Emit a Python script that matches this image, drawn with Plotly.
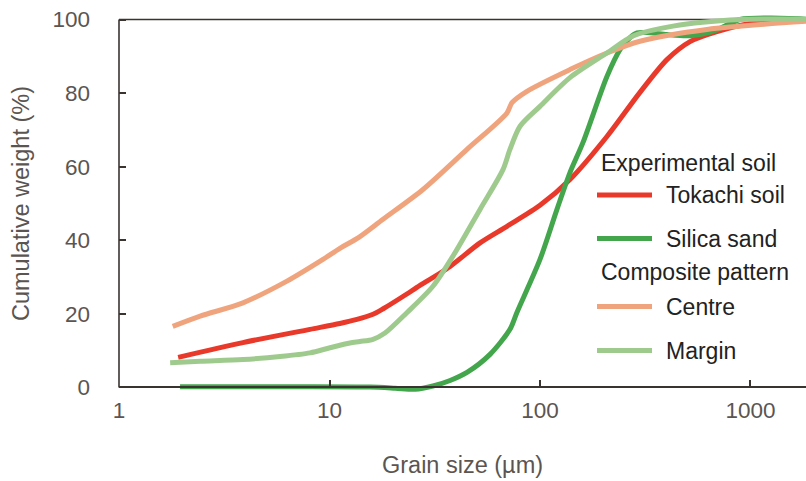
import plotly.graph_objects as go

# ---------------- data (grain size in µm, cumulative weight in %) ----------------
tokachi_x = [1.91, 3.88, 8.08, 11.2, 13.5, 16.1, 18.0, 23.3, 26.0, 37.4, 51.9, 69.7, 100, 138.8, 208, 298.5, 401, 516, 693, 995, 1380, 1835]
tokachi_y = [8.2, 12.2, 15.8, 17.4, 18.5, 19.9, 21.4, 25.4, 27.2, 32.9, 39.3, 43.8, 49.5, 56.5, 68.2, 80.2, 89.1, 94.0, 96.7, 98.9, 99.7, 100.0]

silica_x = [1.95, 4.19, 7.24, 15.6, 20.5, 25.5, 31.0, 37.4, 45.0, 57.9, 72.0, 77.7, 100, 120.4, 138.8, 160.1, 208, 239.9, 267.7, 288.9, 333, 401, 516, 678, 891, 1238, 1835]
silica_y = [0.2, 0.2, 0.2, 0.1, -0.2, -0.5, 0.4, 1.9, 4.1, 9.0, 15.8, 20.4, 34.8, 48.4, 58.4, 66.6, 84.5, 91.8, 95.1, 96.4, 96.4, 95.9, 95.6, 97.0, 100.0, 100.4, 100.1]

centre_x = [1.80, 2.43, 3.88, 6.28, 9.31, 11.2, 13.96, 17.96, 27.8, 45.0, 69.7, 73.6, 86.7, 138.8, 208, 298.5, 621, 1835]
centre_y = [16.6, 19.4, 23.0, 28.9, 34.8, 37.8, 41.0, 45.7, 53.8, 64.7, 74.6, 77.4, 80.5, 86.4, 90.9, 94.1, 97.3, 99.5]

margin_x = [1.75, 2.43, 3.88, 5.82, 8.08, 10.05, 12.5, 13.96, 16.1, 18.35, 23.3, 31.0, 38.6, 51.9, 66.7, 72.0, 80.4, 100, 138.8, 208, 276.6, 428.4, 891, 1835]
margin_y = [6.7, 7.1, 7.6, 8.4, 9.4, 10.8, 12.1, 12.5, 13.1, 14.8, 20.3, 27.5, 35.7, 48.4, 59.2, 64.7, 71.0, 76.4, 84.2, 90.9, 95.5, 98.2, 100.0, 100.1]

x_tick_vals = [1, 10, 100, 1000]
x_tick_text = ["1", "10", "100", "1000"]
y_tick_vals = [0, 20, 40, 60, 80, 100]

series_names = ["Tokachi soil", "Silica sand", "Centre", "Margin"]
group_titles = ["Experimental soil", "Composite pattern"]

# ---------------- styling ----------------
RED = "#E8392B"
GREEN = "#43A64C"
ORANGE = "#F0A47D"
LGREEN = "#9FCA8E"
AXIS = "#3a3431"
LABEL = "#5b5552"
LEGTXT = "#222222"
FONT = "Liberation Sans, Arial, sans-serif"

W, H = 806, 481
ML, MR, MT, MB = 119, 0, 14.48, 87.52
YMIN, YMAX = -1.5, 101.5
XMAXLOG = 3.2637

fig = go.Figure()
for xs, ys, col, nm in [
    (tokachi_x, tokachi_y, RED, series_names[0]),
    (silica_x, silica_y, GREEN, series_names[1]),
    (centre_x, centre_y, ORANGE, series_names[2]),
    (margin_x, margin_y, LGREEN, series_names[3]),
]:
    fig.add_trace(go.Scatter(
        x=xs, y=ys, mode="lines", name=nm,
        line=dict(color=col, width=5, shape="spline", smoothing=0.8),
        showlegend=False, hoverinfo="x+y+name",
    ))

fig.update_layout(
    width=W, height=H,
    margin=dict(l=ML, r=MR, t=MT, b=MB, pad=0),
    paper_bgcolor="white", plot_bgcolor="white",
    font=dict(family=FONT, size=22.5, color=LABEL),
    showlegend=False,
)

fig.update_xaxes(
    type="log", range=[0, XMAXLOG],
    anchor="free", position=(0 - YMIN) / (YMAX - YMIN),
    showline=True, linecolor=AXIS, linewidth=1.6,
    ticks="inside", ticklen=7, tickwidth=1.6, tickcolor=AXIS,
    tickvals=x_tick_vals, ticktext=x_tick_text,
    ticklabelstandoff=3,
    showgrid=False, zeroline=False,
    tickfont=dict(size=22.5, color=LABEL),
    title=dict(text="Grain size (µm)", font=dict(size=23.5, color=LABEL), standoff=33),
    automargin=False,
)
fig.update_yaxes(
    range=[YMIN, YMAX],
    showline=False,
    ticks="inside", ticklen=7, tickwidth=1.6, tickcolor=AXIS,
    tickvals=y_tick_vals,
    ticklabelstandoff=28,
    showgrid=False, zeroline=False,
    tickfont=dict(size=22.5, color=LABEL),
    title=dict(text="Cumulative weight (%)", font=dict(size=23.5, color=LABEL), standoff=16),
    automargin=False,
)

# axis frame: left spine (0-100) and top line at 100
fig.add_shape(type="line", xref="paper", yref="y", x0=0, x1=0, y0=0, y1=100,
              line=dict(color=AXIS, width=1.6), layer="below")
fig.add_shape(type="line", xref="paper", yref="y", x0=0, x1=1, y0=100, y1=100,
              line=dict(color=AXIS, width=1.6), layer="below")

# ---------------- legend (drawn as annotations + sample lines) ----------------
PW = W - ML - MR
PH = H - MT - MB


def px(xp):
    return (xp - ML) / PW


def py(yp):
    return (H - MB - yp) / PH


legend_rows = [
    ("title", group_titles[0], None, 163),
    ("item", series_names[0], RED, 195.5),
    ("item", series_names[1], GREEN, 239),
    ("title", group_titles[1], None, 272),
    ("item", series_names[2], ORANGE, 307),
    ("item", series_names[3], LGREEN, 351),
]
for kind, text, col, yc in legend_rows:
    if kind == "title":
        fig.add_annotation(x=px(599), y=py(yc), xref="paper", yref="paper",
                           text=text, showarrow=False, xanchor="left", yanchor="middle",
                           font=dict(size=23, color=LEGTXT, family=FONT))
    else:
        fig.add_shape(type="line", xref="paper", yref="paper",
                      x0=px(597), x1=px(652), y0=py(yc), y1=py(yc),
                      line=dict(color=col, width=5))
        fig.add_annotation(x=px(664), y=py(yc), xref="paper", yref="paper",
                           text=text, showarrow=False, xanchor="left", yanchor="middle",
                           font=dict(size=23, color=LEGTXT, family=FONT))

fig.write_html("out.html")
